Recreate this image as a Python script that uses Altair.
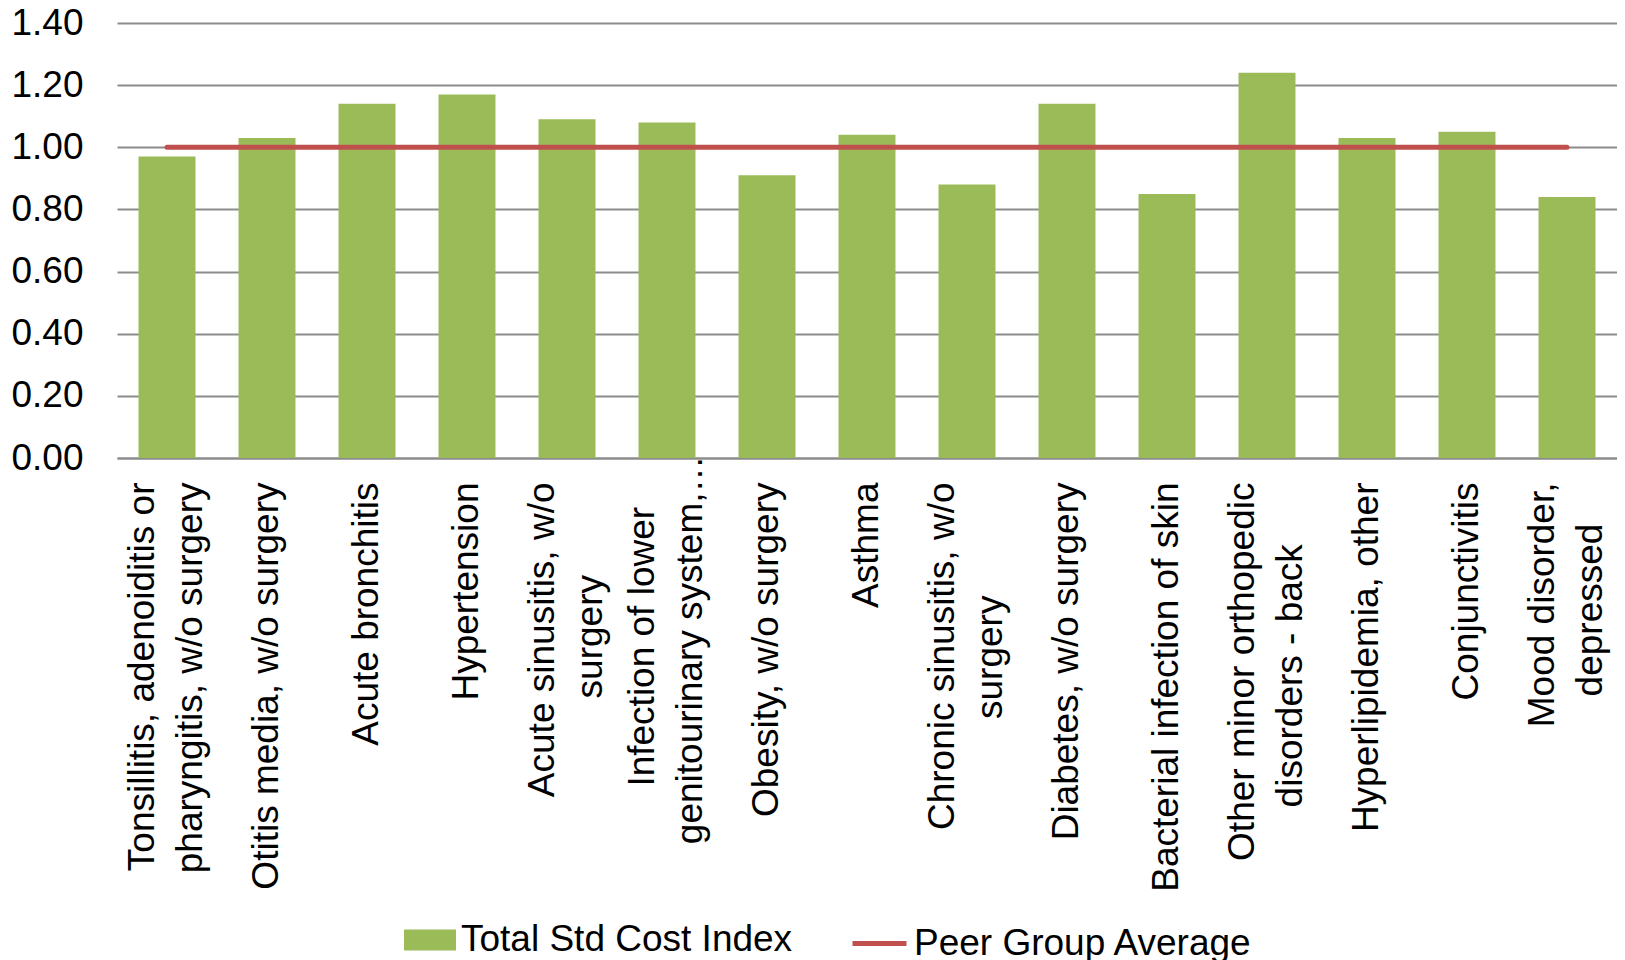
import altair as alt
import pandas as pd

# ---- data ----
label_lines = [
    ["Tonsillitis, adenoiditis or", "pharyngitis, w/o surgery"],
    ["Otitis media, w/o surgery"],
    ["Acute bronchitis"],
    ["Hypertension"],
    ["Acute sinusitis, w/o", "surgery"],
    ["Infection of lower", "genitourinary system,\u2026"],
    ["Obesity, w/o surgery"],
    ["Asthma"],
    ["Chronic sinusitis, w/o", "surgery"],
    ["Diabetes, w/o surgery"],
    ["Bacterial infection of skin"],
    ["Other minor orthopedic", "disorders - back"],
    ["Hyperlipidemia, other"],
    ["Conjunctivitis"],
    ["Mood disorder,", "depressed"],
]
total_std_cost_index = [0.97, 1.03, 1.14, 1.17, 1.09, 1.08, 0.91, 1.04,
                        0.88, 1.14, 0.85, 1.24, 1.03, 1.05, 0.84]
peer_group_average = [1.00, 1.00, 1.00, 1.00, 1.00, 1.00, 1.00, 1.00,
                      1.00, 1.00, 1.00, 1.00, 1.00, 1.00, 1.00]
y_ticks = [0.0, 0.2, 0.4, 0.6, 0.8, 1.0, 1.2, 1.4]
bar_series = "Total Std Cost Index"
line_series = "Peer Group Average"

# ---- helpers: centre the lines of two-line labels (Arial advance widths) ----
W = {" ": 278, ",": 278, "-": 333, "/": 278, "\u2026": 1000, "\u00a0": 278,
     "a": 556, "b": 556, "c": 500, "d": 556, "e": 556, "f": 278, "g": 556,
     "h": 556, "i": 222, "j": 222, "k": 500, "l": 222, "m": 833, "n": 556,
     "o": 556, "p": 556, "q": 556, "r": 333, "s": 500, "t": 278, "u": 556,
     "v": 500, "w": 722, "x": 500, "y": 500, "z": 500,
     "A": 667, "B": 667, "C": 722, "D": 722, "H": 722, "I": 278, "M": 833,
     "O": 778, "T": 611}
NBSP = "\u00a0"
ZWSP = "\u200b"  # keeps the trailing no-break spaces from being trimmed


def tw(s):
    return sum(W.get(c, 556) for c in s)


def centre_lines(lines):
    if len(lines) < 2:
        return lines
    ws = [tw(l) for l in lines]
    m = max(ws)
    out = []
    for l, w in zip(lines, ws):
        n = round((m - w) / 2 / 278)
        out.append(l + NBSP * n + ZWSP if n > 0 else l)
    return out


keys = ["|".join(centre_lines(l)) for l in label_lines]

df = pd.DataFrame({
    "condition": keys,
    "index": total_std_cost_index,
    "peer": peer_group_average,
    "s1": [bar_series] * len(keys),
    "s2": [line_series] * len(keys),
})

FONT = "Liberation Sans"
GRID = "#8C8C8C"

x_enc = alt.X(
    "condition:N", sort=keys,
    scale=alt.Scale(paddingInner=0.43, paddingOuter=0.215),
    axis=alt.Axis(title=None, labelAngle=-90, labelExpr="split(datum.value, '|')",
                  labelFontSize=37, labelLineHeight=48,
                  labelPadding={"condition": {"test": "indexof(datum.value, 'genitourinary') >= 0",
                                              "value": -3}, "value": 24},
                  labelOffset={"condition": {"test": "indexof(datum.value, '|') >= 0",
                                             "value": -24}, "value": 0},
                  labelFont=FONT, labelColor="black", labelLimit=1000,
                  labelOverlap=False, labelBound=False, ticks=False,
                  domainColor=GRID, domainWidth=2),
)
y_axis = alt.Axis(title=None, values=y_ticks, format=".2f", labelFontSize=37,
                  labelFont=FONT, labelColor="black", labelPadding=34,
                  ticks=False, domain=False, gridColor=GRID, gridWidth=2)
y_scale = alt.Scale(domain=[0, 1.4], nice=False)

bars = alt.Chart(df).mark_bar().encode(
    x=x_enc,
    y=alt.Y("index:Q", scale=y_scale, axis=y_axis),
    fill=alt.Fill("s1:N", scale=alt.Scale(domain=[bar_series], range=["#9BBB59"]),
                  legend=alt.Legend(title=None, orient="none", legendX=287, legendY=891,
                                    symbolType="M-1,-0.4H1V0.4H-1Z", symbolSize=2704,
                                    symbolStrokeWidth=0, symbolOpacity=1,
                                    labelFontSize=37, labelFont=FONT, labelColor="black",
                                    labelOffset=5, padding=0, labelLimit=1000)),
)

line = alt.Chart(df).mark_line(strokeWidth=5, strokeCap="round").encode(
    x=x_enc,
    y=alt.Y("peer:Q", scale=y_scale, axis=y_axis),
    stroke=alt.Stroke("s2:N", scale=alt.Scale(domain=[line_series], range=["#C0504D"]),
                      legend=alt.Legend(title=None, orient="none", legendX=733, legendY=891,
                                        symbolType="stroke", symbolSize=2916,
                                        symbolStrokeWidth=5,
                                        labelFontSize=37, labelFont=FONT, labelColor="black",
                                        labelOffset=5, padding=0, labelLimit=1000)),
)

chart = alt.layer(bars, line).resolve_scale(fill="independent", stroke="independent").properties(
    width=1500, height=435,
    autosize=alt.AutoSizeParams(type="none"),
    padding={"left": 109, "top": 15, "right": 0, "bottom": 502},
    background="white",
).configure_view(stroke=None)

chart.save("out.html", embed_options={"renderer": "svg", "actions": False})
